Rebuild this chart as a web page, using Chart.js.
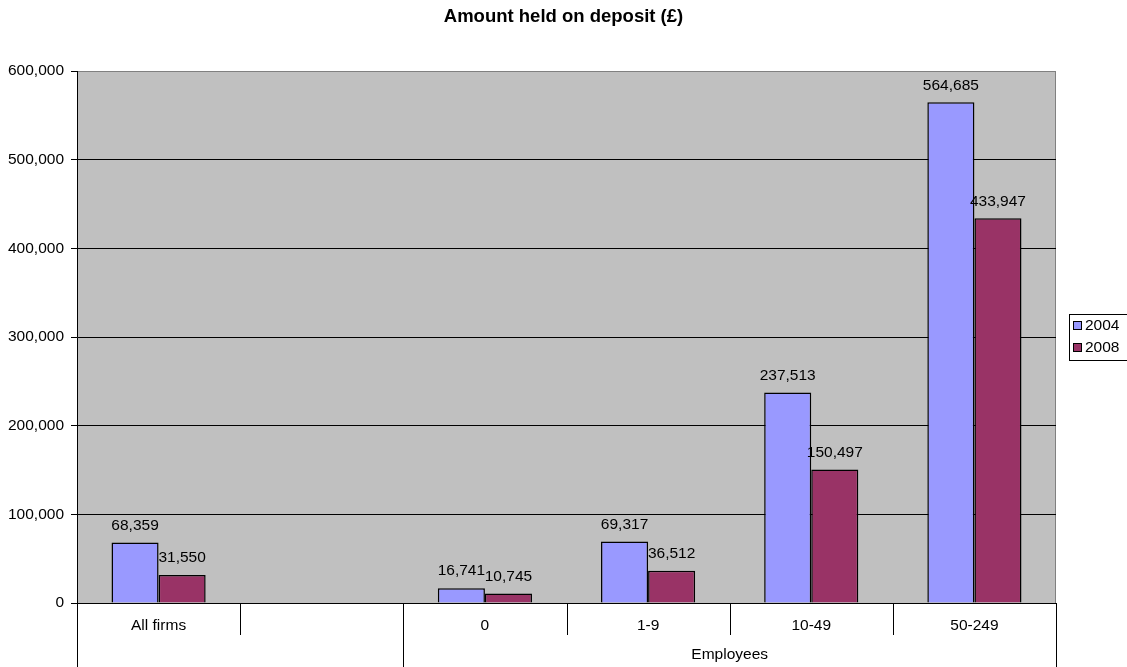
<!DOCTYPE html>
<html>
<head>
<meta charset="utf-8">
<script src="https://cdn.jsdelivr.net/npm/chart.js@4"></script>
<style>
  html, body { margin: 0; padding: 0; background: #fff; }
  #wrap { width: 1127px; height: 667px; }
</style>
</head>
<body>
<div id="wrap"><canvas id="chart"></canvas></div>
<script>
const categories = ['All firms', '', '0', '1-9', '10-49', '50-249'];
const values2004 = [68359, null, 16741, 69317, 237513, 564685];
const values2008 = [31550, null, 10745, 36512, 150497, 433947];
const seriesNames = ['2004', '2008'];
const seriesColors = ['#9999FF', '#993366'];
const groupLabels = ['', 'Employees'];
const groupSpans = [2, 4];
const yTicks = [0, 100000, 200000, 300000, 400000, 500000, 600000];
const chartTitle = 'Amount held on deposit (£)';

const FONT = '"Liberation Sans", Arial, sans-serif';
Chart.defaults.font.family = FONT;
Chart.defaults.font.size = 15.5;
Chart.defaults.color = '#000';

const fmt = v => v.toLocaleString('en-US');

// grey plot area + border, like the old Excel charts
const plotArea = {
  id: 'plotArea',
  beforeDraw(chart) {
    const {ctx, chartArea: a} = chart;
    ctx.save();
    ctx.fillStyle = '#C0C0C0';
    ctx.fillRect(a.left, a.top, a.right - a.left, a.bottom - a.top);
    ctx.strokeStyle = '#808080';
    ctx.lineWidth = 1;
    ctx.strokeRect(a.left + 0.5, a.top + 0.5, a.right - a.left - 1, a.bottom - a.top);
    // title, centred on the whole canvas
    ctx.font = 'bold 18.5px ' + FONT;
    ctx.fillStyle = '#000';
    ctx.textAlign = 'center';
    ctx.textBaseline = 'middle';
    ctx.fillText(chartTitle, chart.width / 2, 17);
    ctx.restore();
  }
};

// value labels above each bar
const barLabels = {
  id: 'barLabels',
  afterDatasetsDraw(chart) {
    const ctx = chart.ctx;
    ctx.save();
    ctx.font = '15.5px ' + FONT;
    ctx.fillStyle = '#000';
    ctx.textAlign = 'center';
    ctx.textBaseline = 'middle';
    chart.data.datasets.forEach((ds, i) => {
      chart.getDatasetMeta(i).data.forEach((bar, j) => {
        const v = ds.data[j];
        if (v == null) return;
        ctx.fillText(fmt(v), bar.x, bar.y - 17);
      });
    });
    ctx.restore();
  }
};

// two-level category axis: separators + group labels, and the legend box
const multiAxis = {
  id: 'multiAxis',
  afterDraw(chart) {
    const {ctx, chartArea: a} = chart;
    const n = categories.length;
    const step = (a.right - a.left) / n;
    const bottom = chart.height;
    const groupEnds = [];
    let acc = 0;
    groupSpans.forEach(s => { acc += s; groupEnds.push(acc); });

    ctx.save();
    ctx.strokeStyle = '#000';
    ctx.lineWidth = 1;
    for (let i = 0; i <= n; i++) {
      const px = Math.round(a.left + i * step) + 0.5;
      const long = i === 0 || groupEnds.includes(i);
      ctx.beginPath();
      ctx.moveTo(px, a.bottom);
      ctx.lineTo(px, long ? bottom : a.bottom + 32);
      ctx.stroke();
    }
    ctx.font = '15.5px ' + FONT;
    ctx.fillStyle = '#000';
    ctx.textAlign = 'center';
    ctx.textBaseline = 'middle';
    let start = 0;
    groupSpans.forEach((s, g) => {
      const cx = a.left + (start + s / 2) * step;
      ctx.fillText(groupLabels[g], cx, a.bottom + 52);
      start += s;
    });

    // legend
    const lx = 1069, ly = 314;
    ctx.strokeRect(lx + 0.5, ly + 0.5, 60, 46);
    seriesNames.forEach((name, i) => {
      const y = ly + 12 + i * 22;
      ctx.fillStyle = seriesColors[i];
      ctx.fillRect(lx + 4.5, y - 4.5, 8, 8);
      ctx.strokeRect(lx + 4.5, y - 4.5, 8, 8);
      ctx.fillStyle = '#000';
      ctx.textAlign = 'left';
      ctx.fillText(name, lx + 16, y);
    });
    ctx.restore();
  }
};

new Chart('chart', {
  type: 'bar',
  data: {
    labels: categories,
    datasets: seriesNames.map((name, i) => ({
      label: name,
      data: i === 0 ? values2004 : values2008,
      backgroundColor: seriesColors[i],
      borderColor: '#000',
      borderWidth: 1.5,
      barPercentage: 1,
      categoryPercentage: 0.577
    }))
  },
  options: {
    responsive: true,
    maintainAspectRatio: false,
    animation: false,
    layout: { padding: { top: 71, right: 71, left: 0, bottom: 0 } },
    scales: {
      x: {
        grid: { display: false, drawTicks: false },
        border: { color: '#000' },
        ticks: { padding: 13, maxRotation: 0, autoSkip: false },
        afterFit: s => { s.height = 64; }
      },
      y: {
        min: 0,
        max: 600000,
        afterBuildTicks: s => { s.ticks = yTicks.map(v => ({value: v})); },
        ticks: { padding: 7, callback: v => fmt(v) },
        grid: {
          color: c => c.tick && c.tick.value === 600000 ? '#808080' : '#000',
          tickColor: '#000',
          tickLength: 6
        },
        border: { color: '#000' },
        afterFit: s => { s.width = 77; }
      }
    },
    plugins: {
      legend: { display: false },
      tooltip: { enabled: false },
      title: { display: false }
    }
  },
  plugins: [plotArea, barLabels, multiAxis]
});
</script>
</body>
</html>
